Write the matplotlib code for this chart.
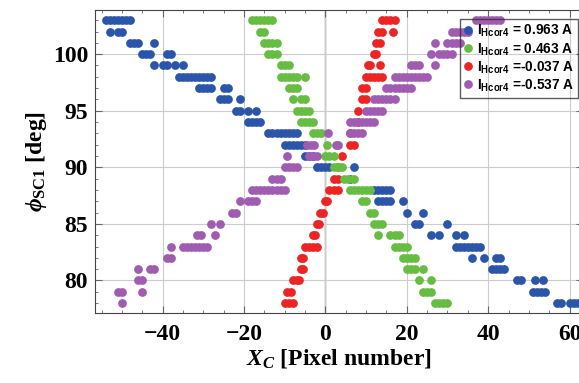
import matplotlib.pyplot as plt
from matplotlib.ticker import MultipleLocator

# rows of the camera picture: phi angle -> list of pixel positions
blue_rows = {
    103: [-54, -53, -52, -51, -50, -49, -48],
    102: [-53, -51, -50],
    101: [-48, -47, -46, -42],
    100: [-45, -44, -43, -39, -38],
    99: [-42, -40, -39, -37, -35],
    98: [-36, -35, -34, -33, -32, -31, -30, -29, -28],
    97: [-31, -30, -29, -28, -25, -24],
    96: [-26, -25, -24, -21],
    95: [-22, -21, -19, -17],
    94: [-19, -18, -17, -16],
    93: [-14, -13, -12, -11, -10, -9, -8, -7],
    92: [-10, -9, -8, -7, -6, -5],
    91: [-5, -4, -3],
    90: [-2, -1, 0, 1, 7],
    89: [6],
    88: [12, 13, 14, 15, 16],
    87: [13, 14, 15, 16, 19],
    86: [20, 24],
    85: [22, 23, 30],
    84: [26, 28, 32, 34],
    83: [32, 33, 34, 35, 36, 37, 38],
    82: [36, 39, 42, 43],
    81: [41, 42, 43, 44],
    80: [47, 48, 51.5, 53.5],
    79: [51, 52, 53, 54],
    78: [57, 58, 60, 61, 62],
}
green_rows = {
    103: [-18, -17, -16, -15, -14, -13],
    102: [-16, -15],
    101: [-15, -14, -13, -12],
    100: [-14, -13, -12],
    99: [-11, -10, -9],
    98: [-11, -10, -9, -8, -7, -5],
    97: [-9, -8, -7],
    96: [-8, -6, -5],
    95: [-7, -6, -5, -4],
    94: [-6, -5, -4, -3],
    93: [-3, -2, -1],
    92: [0.5],
    91: [0, 1, 2],
    90: [2, 3, 4],
    89: [4.5, 5.5, 7],
    88: [6, 7, 8, 9, 10, 11],
    87: [9, 10],
    86: [11, 12],
    85: [12, 13, 14],
    84: [13, 16, 17, 18],
    83: [17, 18, 19, 20],
    82: [19, 20, 21, 22],
    81: [20, 21, 22, 24],
    80: [23, 26],
    79: [24, 25, 26],
    78: [27, 28, 29, 30],
}
red_rows = {
    103: [14, 15, 16, 17],
    102: [13, 14, 16.5],
    101: [12.5, 13.5],
    100: [12, 12.5],
    99: [10.5, 11, 13.5],
    98: [10, 11, 12, 13, 14],
    97: [9, 10],
    96: [9, 10],
    95: [8],
    94: [8],
    93: [6],
    92: [6, 7],
    91: [4],
    90: [3],
    89: [2, 3],
    88: [1, 2, 3],
    87: [0, 0.5],
    86: [-1.2, -0.7],
    85: [-2, -1.5],
    84: [-3, -2.5],
    83: [-5, -4, -3, -2],
    82: [-6, -5.5],
    81: [-6, -5.5],
    80: [-8, -7, -6.5],
    79: [-9.5, -8.5],
    78: [-10, -9, -8],
}
purple_rows = {
    103: [37, 38, 39, 40, 41, 42, 43],
    102: [31, 32, 33, 34, 35],
    101: [27, 30, 31, 32, 33],
    100: [26, 28, 29, 30, 31],
    99: [21, 22, 23, 27],
    98: [17, 18, 19, 20, 21, 22, 23, 24, 25],
    97: [15, 16, 17, 18, 19, 20, 21],
    96: [12, 13, 14, 15, 16, 17],
    95: [10, 11, 12, 13, 14],
    94: [6, 7, 8, 9, 10, 11, 12],
    93: [0.7, 6, 7, 8, 9],
    92: [-4.5, -3.5, -2.8, 2.5, 3],
    91: [-9.5, -4, -3, -2],
    90: [-10, -9, -8, -7],
    89: [-13, -12, -11],
    88: [-18, -17, -16, -15, -14, -13, -12, -11, -10],
    87: [-21, -19, -18, -17],
    86: [-23, -22],
    85: [-28, -26],
    84: [-31.5, -30.5, -27],
    83: [-38, -35, -34, -33, -32, -31, -30, -29],
    82: [-39, -38],
    81: [-46, -43, -42],
    80: [-46, -45],
    79: [-51, -50, -45],
    78: [-50],
}
labels = ['0.963 A', '0.463 A', '-0.037 A', '-0.537 A']
colors = ['#2a55a8', '#66bd42', '#ec2424', '#a05cb0']

plt.rcParams['mathtext.fontset'] = 'custom'
plt.rcParams['mathtext.rm'] = 'Liberation Serif:bold'
plt.rcParams['mathtext.it'] = 'Liberation Serif:italic:bold'
plt.rcParams['mathtext.bf'] = 'Liberation Serif:bold'
plt.rcParams['mathtext.sf'] = 'Liberation Sans:bold'

fig = plt.figure(figsize=(5.79, 3.83), dpi=100)
ax = fig.add_axes([95 / 579, 69.7 / 383, 488.4 / 579, 303.3 / 383])

zorders = [3, 5, 4, 6]
for rows, c, lab, z in zip([blue_rows, green_rows, red_rows, purple_rows], colors, labels, zorders):
    xs = [x for y, row in rows.items() for x in row]
    ys = [y for y, row in rows.items() for x in row]
    if lab.startswith('-'):
        txt = r'$\mathsf{I_{Hcor4}}$ =' + lab
    else:
        txt = r'$\mathsf{I_{Hcor4}}$ = ' + lab
    ax.plot(xs, ys, 'o', ms=6.3, color=c, mec='none', label=txt, zorder=z)

ax.set_xlim(-56.6, 63.4)
ax.set_ylim(77.1, 103.9)
ax.xaxis.set_major_locator(MultipleLocator(20))
ax.xaxis.set_minor_locator(MultipleLocator(5))
ax.yaxis.set_major_locator(MultipleLocator(5))
ax.yaxis.set_minor_locator(MultipleLocator(1))
ax.grid(True, which='major', color='#cccccc', lw=0.8, zorder=0)
ax.axvline(0, color='#888888', lw=1, zorder=1)
ax.tick_params(which='both', direction='in', top=True, right=True, color='#666666')
ax.tick_params(which='major', length=5, labelsize=17)
ax.tick_params(which='minor', length=2.5)
ax.tick_params(axis='x', pad=8)
ax.tick_params(axis='y', pad=5)
for s in ax.spines.values():
    s.set_color('#444444')
for t in ax.get_xticklabels() + ax.get_yticklabels():
    t.set_fontfamily('Liberation Serif')
    t.set_fontweight('bold')

ax.set_xlabel(r'$X_C$ [Pixel number]', fontsize=17, family='Liberation Serif', weight='bold', labelpad=1)
ax.set_ylabel(r'$\phi_{\mathrm{SC1}}$ [deg]', fontsize=17, family='Liberation Serif', weight='bold', labelpad=3)

leg = ax.legend(loc='upper left', bbox_to_anchor=(460 / 579, 1 - 19 / 383), bbox_transform=fig.transFigure,
                borderaxespad=0, borderpad=0.3, handlelength=0.6, handletextpad=0.35, labelspacing=0.12,
                fancybox=False, prop={'family': 'Liberation Sans', 'weight': 'bold', 'size': 9.8})
leg.get_frame().set_facecolor('none')
leg.get_frame().set_edgecolor('#333333')
leg.set_zorder(10)

fig.savefig('out.png', dpi=100)
